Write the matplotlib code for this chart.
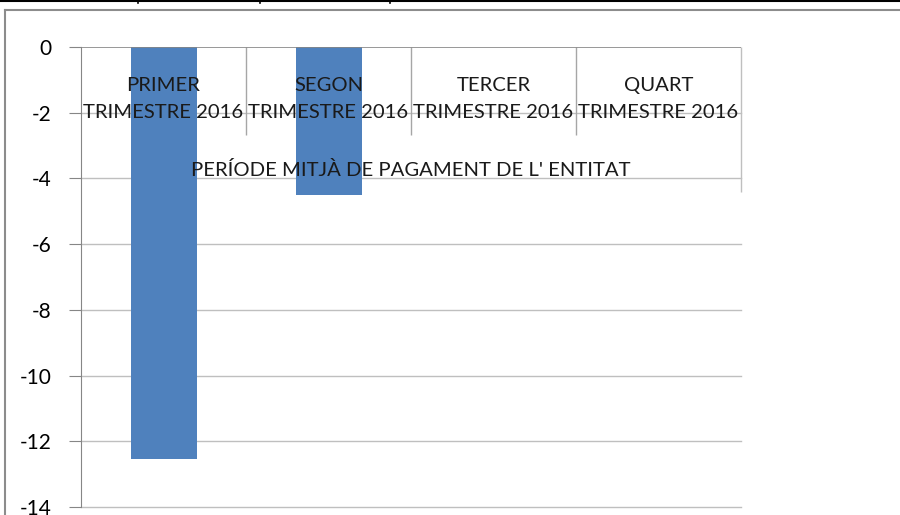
import matplotlib.pyplot as plt
from matplotlib.lines import Line2D

categories = ["PRIMER\nTRIMESTRE 2016", "SEGON\nTRIMESTRE 2016",
              "TERCER\nTRIMESTRE 2016", "QUART\nTRIMESTRE 2016"]
values = [-12.55, -4.5, 0, 0]
group_label = "PERÍODE MITJÀ DE PAGAMENT DE L' ENTITAT"
yticks = [0, -2, -4, -6, -8, -10, -12, -14]

plt.rcParams['font.family'] = ['Lato', 'DejaVu Sans']

fig = plt.figure(figsize=(9, 5.15), dpi=100)
ax = fig.add_axes([81 / 900, 1 - 507 / 515, 660 / 900, 460 / 515])

x = list(range(len(categories)))
ax.bar(x, values, width=0.4, color='#4f81bd', zorder=2)

ax.set_xlim(-0.5, len(categories) - 0.5)
ax.set_ylim(-14, 0)
ax.set_yticks(yticks)
ax.set_yticklabels([str(v) for v in yticks])
ax.set_xticks([])
ax.tick_params(axis='y', length=9, color='#868686', labelsize=15, pad=12, labelcolor='#000000')

for s in ['top', 'right', 'bottom']:
    ax.spines[s].set_visible(False)
ax.spines['left'].set_color('#868686')

for v in yticks[1:]:
    ax.axhline(v, color='#bfbfbf', lw=1, zorder=1, clip_on=False)
ax.axhline(0, color='#868686', lw=1.2, zorder=3)

# category separators
for i in range(1, len(categories)):
    ax.vlines(i - 0.5, -2.68, 0, color='#a6a6a6', lw=1, zorder=1)
ax.vlines(len(categories) - 0.5, -4.41, 0, color='#bfbfbf', lw=1, zorder=1, clip_on=False)

# category labels
fs = 14.6
for i, c in enumerate(categories):
    top, bottom = c.split("\n")
    ax.text(i, -1.16, top, ha='center', va='center', fontsize=fs, color='#1a1a1a', zorder=4)
    ax.text(i, -2.0, bottom, ha='center', va='center', fontsize=fs, color='#1a1a1a', zorder=4)
ax.text(1.5, -3.74, group_label, ha='center', va='center', fontsize=fs, color='#1a1a1a', zorder=4)

# outer frame
fig.add_artist(Line2D([5 / 900, 1], [1 - 10 / 515] * 2, color='#8c8c8c', lw=1.5))
fig.add_artist(Line2D([5 / 900] * 2, [0, 1 - 10 / 515], color='#8c8c8c', lw=1.5))
fig.add_artist(Line2D([0, 1], [1 - 1 / 515] * 2, color='black', lw=1.5))
for px in [138, 260, 390]:
    fig.add_artist(Line2D([px / 900] * 2, [1 - 3 / 515, 1], color='black', lw=1.2))

fig.savefig("out.png", dpi=100)
